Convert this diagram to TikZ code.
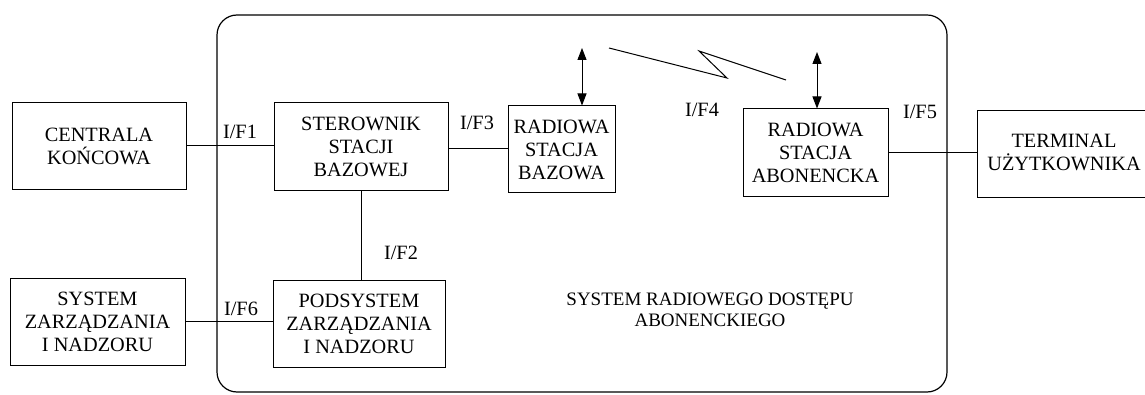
\documentclass[tikz,border=0pt]{standalone}
\usepackage{fontspec}
\setmainfont{Liberation Serif}
\usetikzlibrary{arrows.meta}
\tikzset{
  blok/.style={draw, line width=1pt, align=center, minimum height=87pt, inner sep=0pt},
  link/.style={line width=1pt},
  antena/.style={line width=1pt, {Triangle[length=12pt,width=9pt]}-{Triangle[length=12pt,width=9pt]}}
}
\begin{document}
\begin{tikzpicture}[x=1pt, y=-1pt, font=\fontsize{20.3}{23}\selectfont]
  \useasboundingbox (0,0) rectangle (1145,395);
  \draw[line width=1.2pt, rounded corners=20pt] (217,15) rectangle (947,392);
  \node[blok, minimum width=174pt] (centrala) at (99,146) {CENTRALA\\KOŃCOWA};
  \node[blok, minimum width=174pt, minimum height=88pt] (sterownik) at (361,147) {STEROWNIK\\STACJI\\BAZOWEJ};
  \node[blok, minimum width=107pt] (rsb) at (561.5,149.5) {RADIOWA\\STACJA\\BAZOWA};
  \node[blok, minimum width=145pt, minimum height=88pt] (rsa) at (815.5,153) {RADIOWA\\STACJA\\ABONENCKA};
  \node[blok, minimum width=190pt] (terminal) at (1072,154.5) {};
  \node[align=center] (terminaltxt) at (1064,152) {TERMINAL\\UŻYTKOWNIKA};
  \node[blok, minimum width=175pt] (szin) at (97.5,321.5) {SYSTEM\\ZARZĄDZANIA\\I NADZORU};
  \node[blok, minimum width=172pt] (podsystem) at (359,323.5) {PODSYSTEM\\ZARZĄDZANIA\\I NADZORU};
  \draw[link] (centrala.east) -- (centrala.east -| sterownik.west);
  \draw[link] (rsb.west |- 0,149) -- (sterownik.east |- 0,149);
  \draw[link] (rsa.east) -- (rsa.east -| terminal.west);
  \draw[link] (szin.east) -- (szin.east -| podsystem.west);
  \draw[link] (sterownik.south) -- (sterownik.south |- podsystem.north);
  % anteny
  \coordinate (antb) at (582,48);
  \coordinate (anta) at (817,52);
  \draw[antena] (antb) -- (antb |- rsb.north);
  \draw[antena] (anta) -- (anta |- rsa.north);
  \draw[line width=1pt] (609,48) -- (727,78) -- (699,51) -- (786,80);
  \foreach \x/\y/\t in {240/132/1, 401/253/2, 477/123/3, 702/110/4, 920/112/5, 241/309/6} {
    \node (if\t) at (\x,\y) {I/F\t};
  }
  \node[align=center, font=\fontsize{19}{21.5}\selectfont] (srda) at (710,310) {SYSTEM RADIOWEGO DOSTĘPU\\ABONENCKIEGO};
\end{tikzpicture}
\end{document}
